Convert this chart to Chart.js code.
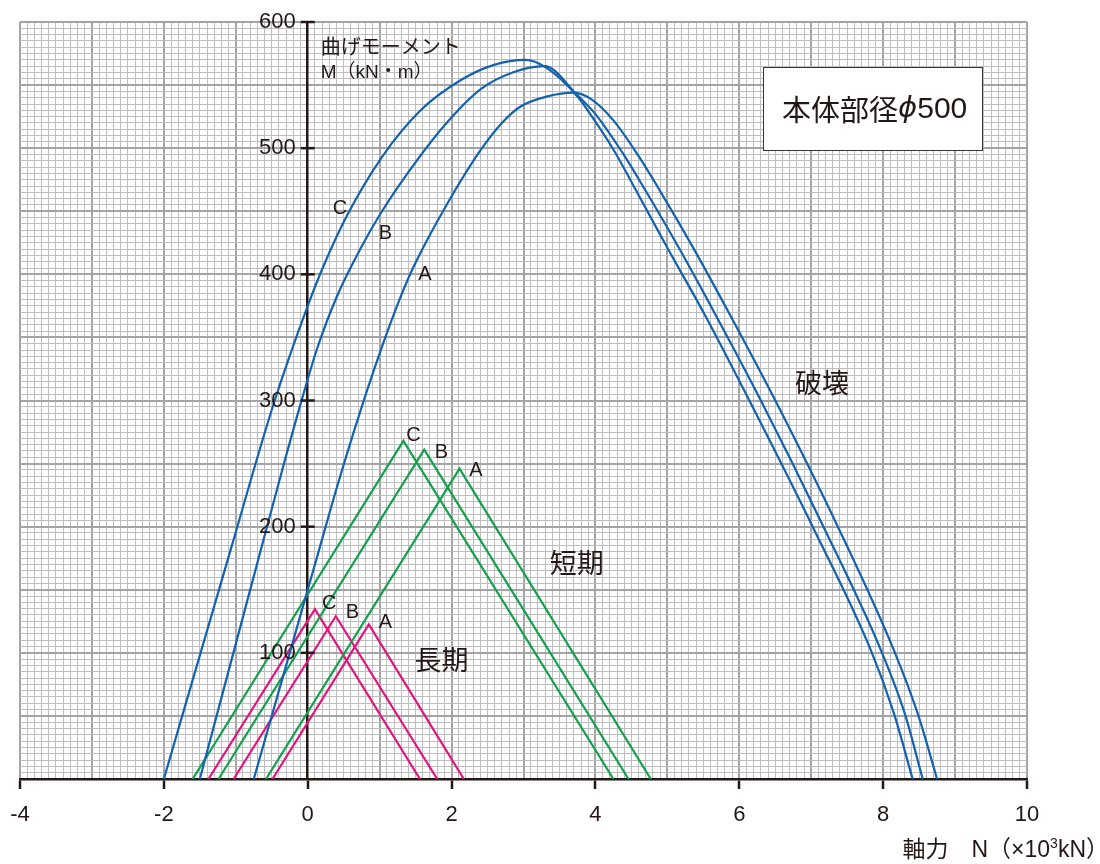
<!DOCTYPE html>
<html lang="ja">
<head>
<meta charset="utf-8">
<title>本体部径φ500 M-N 相関図</title>
<script src="https://cdn.jsdelivr.net/npm/chart.js@4.4.1/dist/chart.umd.min.js"></script>
<style>
  html, body { margin: 0; padding: 0; background: #fff; }
  #wrap { width: 1100px; height: 864px; }
</style>
</head>
<body>
<div id="wrap"><canvas id="mn" width="1100" height="864"></canvas></div>
<script>
// 軸力 N（×10^3 kN）と曲げモーメント M（kN・m）
// 破壊（終局）曲線 A / B / C
const hakaiA_N = [-0.75, 0.16, 0.41, 0.74, 1.06, 1.29, 1.48, 1.94, 2.41, 2.7, 2.96, 3.33, 3.70, 3.95, 4.25, 4.585, 4.91, 5.36, 5.87, 6.51, 7.37, 8.15, 8.48, 8.75];
const hakaiA_M = [0, 182, 232, 293, 347, 382, 407, 456, 499, 520, 533, 541, 544, 538.5, 522, 495, 465, 421, 368, 299, 200, 102, 52, 0];

const hakaiB_N = [-1.5, -0.65, -0.33, -0.05, 0.13, 0.41, 0.74, 1.0, 1.4, 1.9, 2.41, 2.85, 3.29, 3.75, 4.0, 4.38, 4.69, 5.15, 5.66, 6.30, 7.17, 7.97, 8.30, 8.55];
const hakaiB_M = [0, 182, 250, 307, 341, 383, 421, 447, 481, 518, 547, 560, 565, 542, 527, 496, 467, 422, 369, 300, 200, 102, 52, 0];

const hakaiC_N = [-2.0, -1.07, -0.47, 0.0, 0.23, 0.55, 1.02, 1.57, 2.13, 2.59, 3.03, 3.31, 3.75, 3.94, 4.26, 4.56, 4.99, 5.52, 6.14, 7.02, 7.83, 8.15, 8.41];
const hakaiC_M = [0, 182, 298, 375, 408, 447, 492, 530, 554, 566, 570, 564, 541, 526, 498, 467, 422, 368, 300, 200, 102, 52, 0];

// 短期許容
const tankiA_N = [-0.58, 2.11, 4.77];
const tankiA_M = [0, 246, 0];
const tankiB_N = [-1.24, 1.62, 4.46];
const tankiB_M = [0, 261, 0];
const tankiC_N = [-1.60, 1.33, 4.25];
const tankiC_M = [0, 268, 0];

// 長期許容
const chokiA_N = [-0.49, 0.85, 2.17];
const chokiA_M = [0, 122.6, 0];
const chokiB_N = [-1.03, 0.39, 1.80];
const chokiB_M = [0, 129, 0];
const chokiC_N = [-1.38, 0.10, 1.56];
const chokiC_M = [0, 134.7, 0];

// 目盛
const xTickLabels = [-4, -2, 0, 2, 4, 6, 8, 10];
const yTickLabels = [100, 200, 300, 400, 500, 600];

const TEXT = '#231815';
const BLUE = '#1262b0';
const GREEN = '#14a04c';
const PINK = '#e4147f';
const FONT = '"Liberation Sans", Arial, "Noto Sans CJK JP", sans-serif';
const FONT_JP = '"Noto Sans CJK JP", "Liberation Sans", sans-serif';

function curve(label, ns, ms, color, smooth) {
  return {
    label: label,
    data: ns.map((n, i) => ({ x: n, y: ms[i] })),
    borderColor: color,
    borderWidth: 2.2,
    showLine: true,
    pointRadius: 0,
    fill: false,
    tension: smooth ? 0.4 : 0,
    cubicInterpolationMode: smooth ? 'monotone' : 'default'
  };
}

// 曲線の記号・区分の文字（位置はデータ座標）
const tags = [
  { t: 'C', n: 0.45, m: 452, size: 20 },
  { t: 'B', n: 1.08, m: 432, size: 20 },
  { t: 'A', n: 1.63, m: 400, size: 20 },
  { t: 'C', n: 1.47, m: 272.6, size: 20 },
  { t: 'B', n: 1.86, m: 258.6, size: 20 },
  { t: 'A', n: 2.34, m: 244.8, size: 20 },
  { t: 'C', n: 0.30, m: 139, size: 20 },
  { t: 'B', n: 0.62, m: 131.8, size: 20 },
  { t: 'A', n: 1.08, m: 124.2, size: 20 },
  { t: '破壊', n: 7.15, m: 313.8, size: 27 },
  { t: '短期', n: 3.74, m: 171.4, size: 27 },
  { t: '長期', n: 1.86, m: 94.3, size: 27 }
];

// 左から順に続けて書く（フォント混在の文字列用）
function runText(ctx, parts, x, y) {
  let cx = x;
  parts.forEach(p => {
    ctx.font = p.f;
    ctx.fillText(p.s, cx, y + (p.dy || 0));
    cx += ctx.measureText(p.s).width;
  });
}
function runWidth(ctx, parts) {
  let w = 0;
  parts.forEach(p => { ctx.font = p.f; w += ctx.measureText(p.s).width; });
  return w;
}

const notes = {
  id: 'notes',
  afterDatasetsDraw(chart) {
    const { ctx, scales: { x, y } } = chart;
    const px = v => x.getPixelForValue(v);
    const py = v => y.getPixelForValue(v);
    const x0 = px(0);
    ctx.save();

    // 縦軸の目盛（軸の両側）と数値
    ctx.strokeStyle = TEXT;
    ctx.lineWidth = 2.5;
    ctx.fillStyle = TEXT;
    ctx.textBaseline = 'middle';
    ctx.textAlign = 'right';
    ctx.font = '22px ' + FONT;
    yTickLabels.forEach(v => {
      ctx.beginPath();
      ctx.moveTo(x0 - 7, py(v));
      ctx.lineTo(x0 + 7, py(v));
      ctx.stroke();
      ctx.fillText(String(v), x0 - 12, py(v));
    });

    // 縦軸の名前
    ctx.textAlign = 'left';
    ctx.font = '20px ' + FONT_JP;
    ctx.fillText('曲げモーメント', x0 + 13, 46);
    ctx.font = '19px ' + FONT;
    ctx.fillText('M（kN・m）', x0 + 13, 73);

    // 曲線の記号
    ctx.textAlign = 'center';
    tags.forEach(g => {
      ctx.font = g.size + 'px ' + (g.t.length > 1 ? FONT_JP : FONT);
      ctx.fillText(g.t, px(g.n), py(g.m));
    });

    // 本体部径の枠
    const bx1 = px(6.33), bx2 = px(9.38), by1 = py(564), by2 = py(498.4);
    ctx.fillStyle = '#fff';
    ctx.fillRect(bx1, by1, bx2 - bx1, by2 - by1);
    ctx.strokeStyle = '#3a3230';
    ctx.lineWidth = 1;
    ctx.strokeRect(Math.round(bx1) + 0.5, Math.round(by1) + 0.5, Math.round(bx2 - bx1), Math.round(by2 - by1));
    ctx.fillStyle = TEXT;
    ctx.textAlign = 'left';
    const boxText = [
      { s: '本体部径', f: '29px ' + FONT_JP, dy: 0 },
      { s: 'ϕ', f: 'italic 29px "DejaVu Sans", sans-serif', dy: 0 },
      { s: '500', f: '30px ' + FONT, dy: 0 }
    ];
    const bw = runWidth(ctx, boxText);
    runText(ctx, boxText, (bx1 + bx2) / 2 - bw / 2 + 2, (by1 + by2) / 2 + 1);

    // 横軸の名前（右寄せ、10の3乗は上付き）
    const titleX = [
      { s: '軸力　N（×10', f: '23px ' + FONT, dy: 0 },
      { s: '3', f: '14px ' + FONT, dy: -7 },
      { s: 'kN）', f: '23px ' + FONT, dy: 0 }
    ];
    runText(ctx, titleX, 1109 - runWidth(ctx, titleX), 851);

    ctx.restore();
  }
};

const isWhole = v => Math.abs(v - Math.round(v)) < 1e-6;

new Chart(document.getElementById('mn'), {
  type: 'scatter',
  data: {
    datasets: [
      curve('破壊 A', hakaiA_N, hakaiA_M, BLUE, true),
      curve('破壊 B', hakaiB_N, hakaiB_M, BLUE, true),
      curve('破壊 C', hakaiC_N, hakaiC_M, BLUE, true),
      curve('短期 A', tankiA_N, tankiA_M, GREEN, false),
      curve('短期 B', tankiB_N, tankiB_M, GREEN, false),
      curve('短期 C', tankiC_N, tankiC_M, GREEN, false),
      curve('長期 A', chokiA_N, chokiA_M, PINK, false),
      curve('長期 B', chokiB_N, chokiB_M, PINK, false),
      curve('長期 C', chokiC_N, chokiC_M, PINK, false)
    ]
  },
  options: {
    responsive: false,
    animation: false,
    events: [],
    layout: { padding: { left: 20, right: 73, top: 22, bottom: 0 } },
    plugins: { legend: { display: false }, tooltip: { enabled: false } },
    scales: {
      x: {
        type: 'linear',
        position: 'bottom',
        min: -4,
        max: 10,
        // 端の数値ぶんの余白は取らない（枠の位置は padding で決める）
        afterFit: s => { s.height = 85; s.paddingLeft = 0; s.paddingRight = 0; },
        border: { color: TEXT, width: 2.5 },
        grid: {
          color: c => isWhole(c.tick.value) ? (c.tick.value === 0 ? 'rgba(0,0,0,0)' : '#a4a4a4') : '#bebebe',
          lineWidth: c => isWhole(c.tick.value) ? 2 : 1,
          tickLength: 10,
          tickWidth: 2.5,
          tickColor: c => (isWhole(c.tick.value) && xTickLabels.includes(Math.round(c.tick.value))) ? TEXT : 'rgba(0,0,0,0)'
        },
        ticks: {
          stepSize: 0.1,
          autoSkip: false,
          maxRotation: 0,
          minRotation: 0,
          padding: 13,
          color: TEXT,
          font: { family: FONT, size: 22 },
          callback: v => (isWhole(v) && xTickLabels.includes(Math.round(v))) ? String(Math.round(v)) : ''
        }
      },
      y: {
        type: 'linear',
        position: { x: 0 },
        min: 0,
        max: 600,
        afterFit: s => { s.width = 0; s.paddingTop = 0; s.paddingBottom = 0; },
        border: { color: TEXT, width: 2.5 },
        grid: {
          color: c => c.tick.value === 0 ? 'rgba(0,0,0,0)' : (c.tick.value % 50 === 0 ? '#a4a4a4' : '#bebebe'),
          lineWidth: c => c.tick.value % 50 === 0 ? 2 : 1,
          drawTicks: false
        },
        ticks: {
          stepSize: 5,
          autoSkip: false,
          display: false
        }
      }
    }
  },
  plugins: [notes]
});
</script>
</body>
</html>
